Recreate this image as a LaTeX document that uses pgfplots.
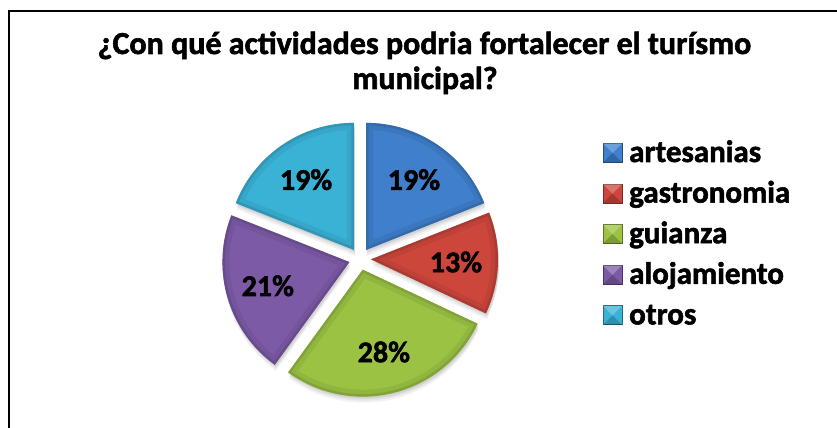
\documentclass[border=0pt]{standalone}
\usepackage{pgfplots}
\pgfplotsset{compat=1.18}
\usepackage{pgfplotstable}
\usepackage{fontspec}
\setmainfont{Carlito}[BoldFeatures={FakeBold=1.8}]
\definecolor{cA}{HTML}{3F7FCC}
\definecolor{cB}{HTML}{CC463C}
\definecolor{cC}{HTML}{9BC243}
\definecolor{cD}{HTML}{7C5AA6}
\definecolor{cE}{HTML}{3AB2D6}
\pgfplotstableread{
label value color
artesanias 19 cA
gastronomia 13 cB
guianza 28 cC
alojamiento 21 cD
otros 19 cE
}\piedata
\begin{document}
\begin{tikzpicture}
\useasboundingbox (0,0) rectangle (837bp,428bp);
\begin{axis}[scale only axis, width=837bp, height=428bp,
  xmin=0, xmax=837, ymin=0, ymax=428, hide axis, clip=false,
  anchor=south west, at={(0,0)}]
\pgfplotsextra{
  % frame
  \draw[line width=2bp, black] (axis cs:9,0) -- (axis cs:9,417) -- (axis cs:837,417);
  % title
  \node[anchor=base, font=\bfseries\fontsize{32bp}{36bp}\selectfont] at (axis cs:424.5,374) {¿Con qué actividades podria fortalecer el turísmo};
  \node[anchor=base, font=\bfseries\fontsize{32bp}{36bp}\selectfont] at (axis cs:425,339) {municipal?};
  \pgfplotstablegetrowsof{\piedata}
  \pgfmathtruncatemacro\nrows{\pgfplotsretval-1}
  \gdef\cum{0}
  % shadows first
  \foreach \i in {0,...,\nrows} {
    \pgfplotstablegetelem{\i}{value}\of\piedata \let\val\pgfplotsretval
    \pgfmathsetmacro\sA{90-3.6*\cum}
    \pgfmathsetmacro\sE{90-3.6*(\cum+\val)}
    \pgfmathsetmacro\sM{(\sA+\sE)/2}
    \pgfmathsetmacro\ox{360+11*cos(\sM)}
    \pgfmathsetmacro\oy{169+11*sin(\sM)}
    \foreach \d/\op in {2/0.08,4/0.06,6/0.05} {
      \pgfmathsetmacro\sx{\ox+1}
      \pgfmathsetmacro\sy{\oy-\d}
      \fill[black, opacity=\op] (axis cs:\sx,\sy) -- ++(\sA:127bp) arc[start angle=\sA, end angle=\sE, radius=127bp] -- cycle;
    }
    \pgfmathsetmacro\newcum{\cum+\val}
    \xdef\cum{\newcum}
  }
  \gdef\cum{0}
  \foreach \i in {0,...,\nrows} {
    \pgfplotstablegetelem{\i}{value}\of\piedata \let\val\pgfplotsretval
    \pgfplotstablegetelem{\i}{color}\of\piedata \let\colname\pgfplotsretval
    \pgfplotstablegetelem{\i}{label}\of\piedata \let\lab\pgfplotsretval
    \pgfmathtruncatemacro\vi{\val}
    \pgfmathsetmacro\sA{90-3.6*\cum}
    \pgfmathsetmacro\sE{90-3.6*(\cum+\val)}
    \pgfmathsetmacro\sM{(\sA+\sE)/2}
    \pgfmathsetmacro\ox{360+11*cos(\sM)}
    \pgfmathsetmacro\oy{169+11*sin(\sM)}
    \pgfmathsetmacro\lx{\ox+85*cos(\sM)}
    \pgfmathsetmacro\ly{\oy+85*sin(\sM)}
    \fill[fill=\colname] (axis cs:\ox,\oy) -- ++(\sA:127bp) arc[start angle=\sA, end angle=\sE, radius=127bp] -- cycle;
    \begin{scope}
      \clip (axis cs:\ox,\oy) -- ++(\sA:127bp) arc[start angle=\sA, end angle=\sE, radius=127bp] -- cycle;
      \draw[line width=14bp, \colname!80!black, opacity=0.3, line join=round] (axis cs:\ox,\oy) -- ++(\sA:127bp) arc[start angle=\sA, end angle=\sE, radius=127bp] -- cycle;
      \draw[line width=5bp, \colname!70!black, opacity=0.4, line join=round] (axis cs:\ox,\oy) -- ++(\sA:127bp) arc[start angle=\sA, end angle=\sE, radius=127bp] -- cycle;
    \end{scope}
    \node[font=\bfseries\fontsize{30bp}{36bp}\selectfont] at (axis cs:\lx,\ly) {\vi\%};
    % legend
    \pgfmathsetmacro\ry{428-153-40.6*\i}
    \pgfmathsetmacro\rya{\ry-9.5}
    \pgfmathsetmacro\ryb{\ry+9.5}
    \pgfmathsetmacro\ryt{\ry-9}
    \fill[fill=\colname] (axis cs:603,\rya) rectangle (axis cs:622,\ryb);
    \draw[\colname!60!black, line width=0.8bp] (axis cs:603,\rya) rectangle (axis cs:622,\ryb);
    \fill[white, opacity=0.25] (axis cs:603,\ryb) -- (axis cs:622,\ryb) -- (axis cs:612.5,\ry) -- cycle;
    \fill[black, opacity=0.2] (axis cs:603,\rya) -- (axis cs:622,\rya) -- (axis cs:612.5,\ry) -- cycle;
    \node[anchor=base west, inner sep=0pt, font=\bfseries\fontsize{31bp}{36bp}\selectfont] at (axis cs:629,\ryt) {\lab};
    \pgfmathsetmacro\newcum{\cum+\val}
    \xdef\cum{\newcum}
  }
}
\end{axis}
\end{tikzpicture}
\end{document}
